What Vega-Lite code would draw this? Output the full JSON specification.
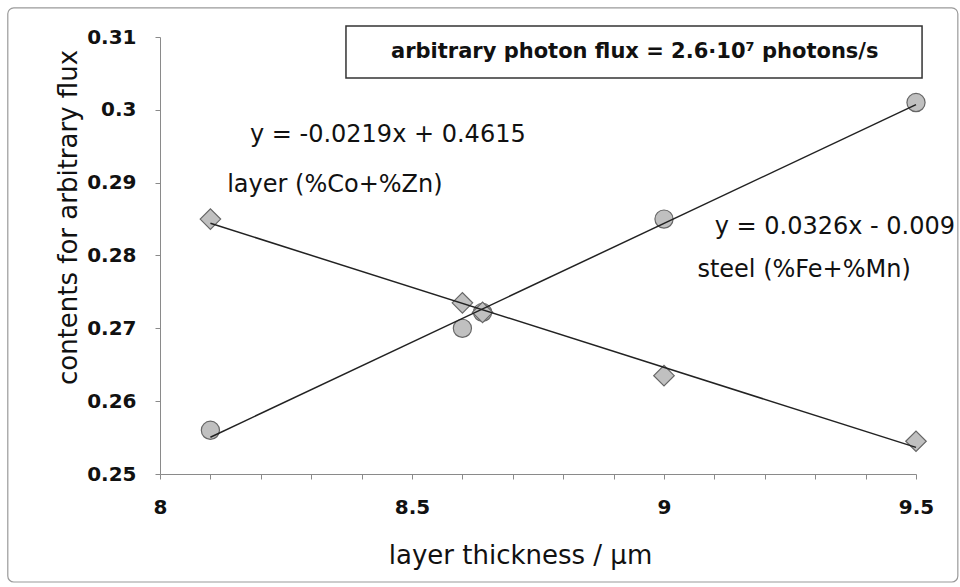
{
  "$schema": "https://vega.github.io/schema/vega-lite/v6.json",
  "width": 756,
  "height": 437,
  "autosize": {"type": "none"},
  "padding": {"left": 160, "top": 37, "right": 44, "bottom": 113},
  "background": "white",
  "config": {
    "view": {"stroke": null},
    "font": "DejaVu Sans",
    "axis": {
      "grid": false,
      "domainColor": "#8a8a8a",
      "tickColor": "#8a8a8a",
      "tickSize": 5,
      "labelFont": "DejaVu Sans",
      "labelFontWeight": "bold",
      "labelFontSize": 20,
      "labelColor": "#111",
      "titleFont": "DejaVu Sans",
      "titleFontWeight": "normal",
      "titleFontSize": 26,
      "titleColor": "#111"
    }
  },
  "datasets": {
    "pts": [
      {"series": "steel", "x": 8.1, "y": 0.256},
      {"series": "steel", "x": 8.6, "y": 0.270},
      {"series": "steel", "x": 8.64, "y": 0.2722},
      {"series": "steel", "x": 9.0, "y": 0.285},
      {"series": "steel", "x": 9.5, "y": 0.301},
      {"series": "layer", "x": 8.1, "y": 0.285},
      {"series": "layer", "x": 8.6, "y": 0.2735},
      {"series": "layer", "x": 8.64, "y": 0.2722},
      {"series": "layer", "x": 9.0, "y": 0.2635},
      {"series": "layer", "x": 9.5, "y": 0.2545}
    ],
    "labels": [
      {"x": 8.452, "y": 0.2965, "text": "y = -0.0219x + 0.4615"},
      {"x": 8.347, "y": 0.2897, "text": "layer (%Co+%Zn)"},
      {"x": 9.339, "y": 0.2839, "text": "y = 0.0326x - 0.009"},
      {"x": 9.278, "y": 0.2780, "text": "steel (%Fe+%Mn)"}
    ],
    "box": [
      {"x": 8.369, "x2": 9.512, "y": 0.31151, "y2": 0.30437, "xc": 8.942, "yc": 0.30794, "text": "arbitrary photon flux = 2.6·10⁷ photons/s"}
    ],
    "frame": [
      {"x": 7.698, "x2": 9.583, "y": 0.3140, "y2": 0.23517}
    ]
  },
  "encoding": {},
  "layer": [
    {
      "data": {"name": "frame"},
      "mark": {"type": "rect", "fill": null, "stroke": "#9a9a9a", "strokeWidth": 1.2, "cornerRadius": 6, "clip": false},
      "encoding": {
        "x": {"field": "x", "type": "quantitative", "scale": {"domain": [8, 9.5], "nice": false, "zero": false},
          "axis": {
            "values": [8, 8.1, 8.2, 8.3, 8.4, 8.5, 8.6, 8.7, 8.8, 8.9, 9, 9.1, 9.2, 9.3, 9.4, 9.5],
            "labelExpr": "abs(datum.value*2 - round(datum.value*2)) < 0.001 ? format(datum.value, '.1~f') : ''",
            "labelPadding": 18,
            "labelFlush": false,
            "labelOverlap": false,
            "title": "layer thickness / μm",
            "titleX": 360,
            "titleY": 89,
            "titleBaseline": "alphabetic",
            "titleAnchor": "middle"
          }},
        "x2": {"field": "x2"},
        "y": {"field": "y", "type": "quantitative", "scale": {"domain": [0.25, 0.31], "nice": false, "zero": false},
          "axis": {
            "values": [0.25, 0.26, 0.27, 0.28, 0.29, 0.3, 0.31],
            "format": ".2~f",
            "labelPadding": 19,
            "labelFlush": false,
            "title": "contents for arbitrary flux",
            "titleX": -92,
            "titleY": 180,
            "titleAngle": -90,
            "titleBaseline": "middle",
            "titleAnchor": "middle"
          }},
        "y2": {"field": "y2"}
      }
    },
    {
      "data": {"name": "box"},
      "mark": {"type": "rect", "fill": "white", "stroke": "#333", "strokeWidth": 1.5},
      "encoding": {
        "x": {"field": "x", "type": "quantitative"},
        "x2": {"field": "x2"},
        "y": {"field": "y", "type": "quantitative"},
        "y2": {"field": "y2"}
      }
    },
    {
      "data": {"name": "box"},
      "mark": {"type": "text", "font": "DejaVu Sans", "fontSize": 21, "fontWeight": "bold", "color": "#111", "align": "center", "baseline": "middle"},
      "encoding": {
        "x": {"field": "xc", "type": "quantitative"},
        "y": {"field": "yc", "type": "quantitative"},
        "text": {"field": "text"}
      }
    },
    {
      "data": {"name": "pts"},
      "mark": {"type": "point", "filled": true, "fill": "#c0c0c0", "stroke": "#666", "strokeWidth": 1.2, "opacity": 1},
      "encoding": {
        "x": {"field": "x", "type": "quantitative"},
        "y": {"field": "y", "type": "quantitative"},
        "shape": {"field": "series", "type": "nominal", "scale": {"domain": ["steel", "layer"], "range": ["circle", "diamond"]}, "legend": null},
        "size": {"field": "series", "type": "nominal", "scale": {"domain": ["steel", "layer"], "range": [330, 420]}, "legend": null}
      }
    },
    {
      "data": {"name": "pts"},
      "transform": [
        {"regression": "y", "on": "x", "groupby": ["series"], "extent": [8.1, 9.5]}
      ],
      "mark": {"type": "line", "color": "#222", "strokeWidth": 1.5},
      "encoding": {
        "x": {"field": "x", "type": "quantitative"},
        "y": {"field": "y", "type": "quantitative"},
        "detail": {"field": "series", "type": "nominal"}
      }
    },
    {
      "data": {"name": "labels"},
      "mark": {"type": "text", "font": "DejaVu Sans", "fontSize": 24, "fontWeight": "normal", "color": "#111", "align": "center", "baseline": "middle"},
      "encoding": {
        "x": {"field": "x", "type": "quantitative"},
        "y": {"field": "y", "type": "quantitative"},
        "text": {"field": "text"}
      }
    }
  ]
}
